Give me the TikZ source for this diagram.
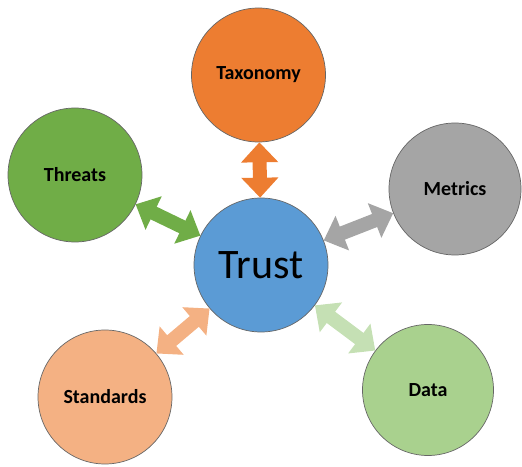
\documentclass[tikz,border=0pt]{standalone}
\usepackage{fontspec}
\setmainfont{Carlito}
\usetikzlibrary{arrows.meta}

\definecolor{trustblue}{HTML}{5B9BD5}
\definecolor{taxorange}{HTML}{ED7D31}
\definecolor{threatgreen}{HTML}{70AD47}
\definecolor{metricgray}{HTML}{A5A5A5}
\definecolor{stdpeach}{HTML}{F4B183}
\definecolor{datagreen}{HTML}{A9D18E}
\definecolor{datalight}{HTML}{C5E0B4}

\begin{document}
\begin{tikzpicture}[x=1pt, y=1pt,
    bubble/.style={circle, draw=black!60, line width=0.7pt, minimum size=134pt,
                   inner sep=0pt, font=\fontsize{20}{24}\selectfont\bfseries},
    fatarrow/.style={line width=14pt,
                     {Triangle[length=20pt,width=36pt]}-{Triangle[length=20pt,width=36pt]}}]
          \useasboundingbox (0, 0) rectangle (522, 466);

          % Draw the circles
          \node[bubble, fill=trustblue, font=\fontsize{42}{48}\selectfont] (trust) at (261, 201) {Trust};
          \node[bubble, fill=taxorange] (taxonomy) at (258.5, 391) {Taxonomy};
          \node[bubble, fill=threatgreen] (threats) at (75, 291) {Threats};
          \node[bubble, fill=metricgray, minimum size=132pt] (metrics) at (455, 277) {Metrics};
          \node[bubble, fill=stdpeach] (standards) at (105, 69) {Standards};
          \node[bubble, fill=datagreen, minimum size=131pt] (data) at (428, 76) {Data};

          % Draw the arrows between trust and the others
          \draw[fatarrow, taxorange] (trust) -- (taxonomy);
          \draw[fatarrow, threatgreen] (trust) -- (threats);
          \draw[fatarrow, metricgray] (trust) -- (metrics);
          \draw[fatarrow, stdpeach] (trust) -- (standards);
          \draw[fatarrow, datalight] (trust) -- (data);
        \end{tikzpicture}
\end{document}
